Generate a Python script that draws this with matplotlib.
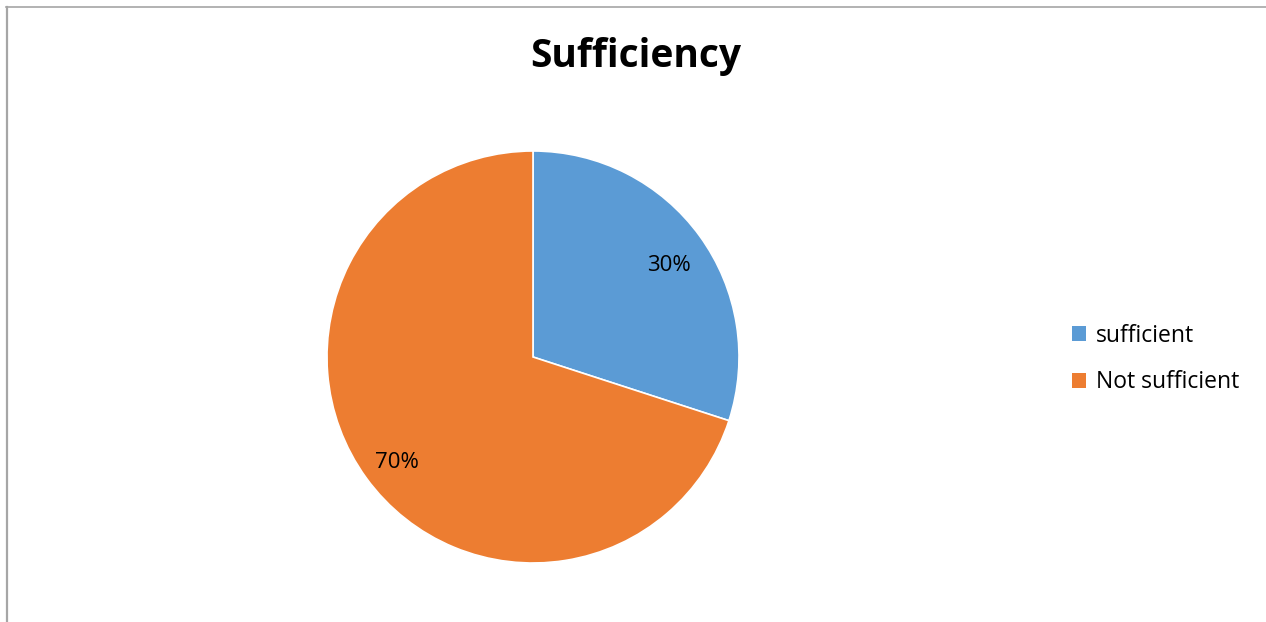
import matplotlib
matplotlib.use("Agg")
import matplotlib.pyplot as plt
import matplotlib.transforms as mtransforms
from matplotlib.lines import Line2D
from matplotlib.patches import Patch

categories = ["sufficient", "Not sufficient"]
values = [30, 70]
colors = ["#5B9BD5", "#ED7D31"]
title = "Sufficiency"

plt.rcParams['font.family'] = ['Open Sans', 'DejaVu Sans']

W, H = 1266, 622
fig = plt.figure(figsize=(W / 100, H / 100), dpi=100)
fig.patch.set_facecolor("white")

# border (top and left visible)
fig.add_artist(Line2D([7 / W, 7 / W], [0, 1 - 6.5 / H], transform=fig.transFigure,
                      color="#A6A6A6", lw=1.6))
fig.add_artist(Line2D([6 / W, 1], [1 - 6.5 / H, 1 - 6.5 / H], transform=fig.transFigure,
                      color="#A6A6A6", lw=1.2))

cx, cy, r = 533, 357, 206
ax = fig.add_axes([(cx - r) / W, (H - cy - r) / H, 2 * r / W, 2 * r / H])
wedges, texts, autotexts = ax.pie(values, colors=colors, startangle=90, counterclock=False,
                                  autopct='%1.0f%%', pctdistance=0.815,
                                  wedgeprops=dict(edgecolor="white", linewidth=1.2),
                                  textprops=dict(fontsize=16, color="black"))
shift = mtransforms.ScaledTranslation(0, -7 / 100, fig.dpi_scale_trans)
for t in autotexts:
    t.set_transform(t.get_transform() + shift)
ax.set_xlim(-1, 1)
ax.set_ylim(-1, 1)
ax.set_aspect("equal")

fig.text(636 / W, 1 - 57 / H, title, ha="center", va="center", fontsize=28, fontweight="bold")

handles = [Patch(facecolor=c, edgecolor="none") for c in colors]
fig.legend(handles, categories, loc="center left", bbox_to_anchor=(1063 / W, 1 - 359 / H),
           frameon=False, fontsize=16.5, handlelength=0.6, handleheight=0.6, handletextpad=0.45,
           labelspacing=1.0, borderaxespad=0)

fig.savefig("out.png", dpi=100)
